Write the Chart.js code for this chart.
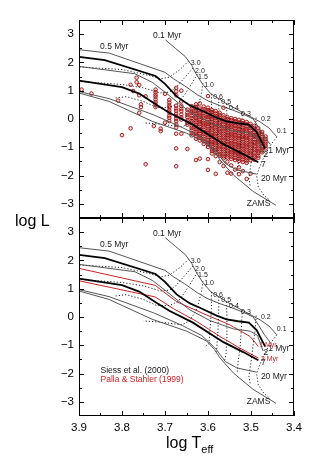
<!DOCTYPE html>
<html><head><meta charset="utf-8">
<script src="https://cdn.jsdelivr.net/npm/chart.js@4.4.1/dist/chart.umd.min.js"></script>
<style>
html,body{margin:0;padding:0;background:#fff;}
body{width:325px;height:475px;position:relative;overflow:hidden;font-family:"Liberation Sans",Arial,Helvetica,sans-serif;}
canvas{position:absolute;left:0;}
#c1{top:0}
#c2{top:200px}
.ax{position:absolute;color:#000;font-size:16px;line-height:1;white-space:nowrap}
#ylab{left:15px;top:213px}
#xlab{left:166px;top:435px}
#xlab sub{font-size:11px;vertical-align:-5px;line-height:0}
</style></head><body>
<canvas id="c1" width="325" height="240"></canvas>
<canvas id="c2" width="325" height="240"></canvas>
<div class="ax" id="ylab">log L</div>
<div class="ax" id="xlab">log T<sub>eff</sub></div>
<script>
// ---------- axes ----------
const xMajor = [3.9, 3.8, 3.7, 3.6, 3.5, 3.4];
const xMinor = [3.85, 3.75, 3.65, 3.55, 3.45];
const yMajor = [-3, -2, -1, 0, 1, 2, 3];
const yMinor = [-2.5, -1.5, -0.5, 0.5, 1.5, 2.5];

// ---------- Siess et al. (2000) isochrones [log Teff, log L] ----------
const siess_0_1Myr = [[3.699,2.8],[3.676,2.5],[3.653,2.21],[3.638,1.9],[3.628,1.6],[3.612,1.22],[3.594,0.9],[3.575,0.72],[3.557,0.54],[3.518,0.22],[3.479,-0.1],[3.458,-0.32],[3.44,-0.63]];
const siess_0_5Myr = [[3.9,2.45],[3.83,2.33],[3.70,1.65],[3.68,1.42],[3.655,1.18],[3.625,0.86],[3.60,0.64],[3.57,0.46],[3.54,0.3],[3.515,0.15],[3.495,0.0],[3.482,-0.3],[3.47,-0.6],[3.455,-0.9]];
const siess_1Myr = [[3.9,2.2],[3.84,2.08],[3.722,1.52],[3.70,1.24],[3.673,0.8],[3.642,0.48],[3.615,0.3],[3.58,0.05],[3.557,-0.08],[3.53,-0.15],[3.505,-0.2],[3.487,-0.46],[3.467,-1.05]];
const siess_2Myr = [[3.9,1.86],[3.77,1.6],[3.73,1.3],[3.70,0.95],[3.67,0.58],[3.642,0.25],[3.595,-0.13],[3.541,-0.42],[3.502,-0.5],[3.485,-0.65],[3.472,-1.2]];
const siess_7Myr = [[3.9,1.36],[3.8,1.13],[3.76,0.9],[3.72,0.5],[3.69,0.22],[3.636,-0.19],[3.564,-0.89],[3.518,-1.24],[3.483,-1.53]];
const siess_20Myr = [[3.9,0.97],[3.83,0.72],[3.727,0.15],[3.66,-0.3],[3.615,-0.65],[3.599,-0.87],[3.58,-1.16],[3.56,-1.57],[3.533,-1.8],[3.487,-1.95]];
const siess_ZAMS = [[3.9,0.92],[3.83,0.62],[3.73,-0.08],[3.65,-0.5],[3.603,-0.85],[3.585,-1.15],[3.572,-1.45],[3.541,-1.98],[3.495,-2.56],[3.442,-3.05]];

// ---------- Siess mass tracks (dotted) ----------
const track_3_0 = [[3.645,2.05],[3.665,1.75],[3.69,1.48],[3.71,1.42],[3.74,1.55],[3.8,1.75],[3.9,1.84]];
const track_2_0 = [[3.635,1.8],[3.655,1.45],[3.675,1.1],[3.69,0.95],[3.71,0.92],[3.75,1.1],[3.8,1.22],[3.9,1.33]];
const track_1_5 = [[3.625,1.58],[3.64,1.2],[3.655,0.85],[3.67,0.55],[3.69,0.4],[3.72,0.41],[3.75,0.62],[3.79,0.79],[3.816,0.74]];
const track_1_0 = [[3.612,1.27],[3.615,0.9],[3.622,0.5],[3.63,0.15],[3.645,-0.15],[3.66,-0.28],[3.7,-0.2],[3.727,-0.16],[3.75,-0.14]];
const track_0_6 = [[3.592,0.88],[3.592,0.3],[3.595,-0.4],[3.598,-0.95],[3.605,-1.02]];
const track_0_5 = [[3.575,0.72],[3.575,0.2],[3.577,-0.5],[3.58,-1.2],[3.585,-1.3]];
const track_0_4 = [[3.557,0.54],[3.556,0.0],[3.556,-0.7],[3.558,-1.3],[3.562,-1.6]];
const track_0_3 = [[3.52,0.25],[3.522,-0.3],[3.525,-1.0],[3.53,-1.6],[3.532,-1.95]];
const track_0_2 = [[3.488,0.05],[3.49,-0.4],[3.495,-1.0],[3.5,-1.6],[3.505,-2.1],[3.502,-2.35]];
const track_0_1 = [[3.44,-0.63],[3.458,-1.0],[3.47,-1.35],[3.48,-1.7],[3.487,-2.0],[3.483,-2.4],[3.47,-2.7],[3.458,-2.85]];

// ---------- Palla & Stahler (1999) isochrones ----------
const ps99_1Myr = [[3.9,1.72],[3.723,1.12],[3.673,0.54],[3.603,0.07],[3.549,-0.28],[3.502,-0.69],[3.483,-1.04]];
const ps99_3Myr = [[3.9,1.28],[3.723,0.71],[3.681,0.3],[3.626,-0.16],[3.572,-0.69],[3.526,-1.1],[3.483,-1.45]];

// ---------- observed stars: columns of [log Teff, [log L ...]] ----------
const starColumns = [
 [3.894,[1.04]],
 [3.871,[0.9]],
 [3.809,[0.65]],
 [3.800,[-0.57]],
 [3.780,[1.21,-0.33]],
 [3.774,[0.99]],
 [3.766,[1.46,1.3]],
 [3.760,[1.2,0.84,0.22]],
 [3.756,[0.52,0.42]],
 [3.745,[0.8,-1.6]],
 [3.726,[-0.25]],
 [3.722,[1.04,0.95,0.86,0.79,0.69,0.6,0.51,0.42]],
 [3.710,[-0.34,-0.43]],
 [3.700,[0.89,-0.13]],
 [3.690,[0.67,0.58,0.48,0.41,0.31,0.23,0.12,0.04,-0.07]],
 [3.674,[1.1,0.98,0.84,0.47,0.37,0.29,0.18,0.1,0.01,-0.08,-0.19,-0.3,-0.52,-1.04,-1.67]],
 [3.662,[1.0,0.62,0.46,0.36,0.28,0.16,0.06,-0.02,-0.52]],
 [3.648,[0.33,0.22,0.14,0.06,-0.05,-0.13,-0.2,-1.06]],
 [3.638,[0.45,0.36,0.27,0.21,0.12,0.03,-0.06,-0.13,-0.24,-0.31,-0.4,-0.49,-0.58]],
 [3.628,[0.52,0.43,0.37,0.28,0.19,0.12,0.04,-0.05,-0.12,-0.21,-0.29,-0.36,-0.45,-0.52,-0.61,-0.7,-1.45]],
 [3.619,[0.55,0.37,0.3,0.21,0.13,0.06,-0.03,-0.11,-0.18,-0.27,-0.35,-0.42,-0.51,-0.59,-0.66,-0.76,-1.4]],
 [3.610,[0.44,0.35,0.27,0.2,0.1,0.03,-0.06,-0.14,-0.22,-0.29,-0.38,-0.46,-0.53,-0.62,-0.7,-0.79,-0.88]],
 [3.600,[0.81,0.4,0.31,0.24,0.15,0.07,-0.01,-0.1,-0.17,-0.26,-0.34,-0.41,-0.5,-0.58,-0.65,-0.74,-0.83,-0.9,-0.99,-1.42,-1.8]],
 [3.591,[0.32,0.25,0.16,0.08,0.0,-0.09,-0.16,-0.24,-0.33,-0.4,-0.49,-0.57,-0.64,-0.73,-0.81,-0.89,-0.97,-1.06,-1.13,-1.22]],
 [3.582,[0.28,0.19,0.11,0.04,-0.05,-0.13,-0.2,-0.29,-0.37,-0.44,-0.53,-0.61,-0.69,-0.77,-0.85,-0.93,-1.01,-1.1,-1.18,-1.31,-1.94]],
 [3.573,[0.22,0.14,0.05,-0.02,-0.11,-0.19,-0.26,-0.35,-0.43,-0.51,-0.58,-0.67,-0.75,-0.83,-0.91,-0.98,-1.07,-1.15,-1.24,-1.3,-1.52]],
 [3.564,[0.4,0.13,0.05,-0.03,-0.1,-0.19,-0.27,-0.34,-0.43,-0.51,-0.59,-0.66,-0.75,-0.83,-0.9,-0.99,-1.07,-1.15,-1.23,-1.32,-1.39,-1.66]],
 [3.555,[0.07,-0.01,-0.09,-0.17,-0.25,-0.33,-0.4,-0.49,-0.57,-0.65,-0.72,-0.81,-0.89,-0.97,-1.04,-1.13,-1.21,-1.29,-1.36,-1.51,-1.9]],
 [3.546,[0.03,-0.04,-0.13,-0.21,-0.28,-0.37,-0.45,-0.53,-0.61,-0.68,-0.77,-0.85,-0.93,-1.0,-1.09,-1.17,-1.25,-1.33,-1.41,-1.64,-1.93]],
 [3.537,[0.0,-0.08,-0.16,-0.24,-0.33,-0.41,-0.48,-0.57,-0.65,-0.72,-0.8,-0.89,-0.97,-1.04,-1.13,-1.21,-1.28,-1.37,-1.45,-1.79]],
 [3.528,[-0.03,-0.12,-0.2,-0.27,-0.36,-0.44,-0.51,-0.6,-0.68,-0.76,-0.84,-0.92,-1.0,-1.08,-1.16,-1.24,-1.32,-1.4,-1.48,-1.71,-1.95]],
 [3.519,[-0.07,-0.15,-0.23,-0.31,-0.39,-0.47,-0.56,-0.63,-0.71,-0.8,-0.87,-0.95,-1.04,-1.11,-1.19,-1.28,-1.35,-1.43,-1.52,-1.84]],
 [3.510,[-0.11,-0.19,-0.27,-0.36,-0.43,-0.51,-0.6,-0.67,-0.75,-0.84,-0.91,-0.99,-1.08,-1.15,-1.23,-1.32,-1.39,-1.47,-1.55,-2.12]],
 [3.501,[-0.17,-0.25,-0.32,-0.41,-0.49,-0.56,-0.65,-0.73,-0.8,-0.89,-0.97,-1.04,-1.13,-1.21,-1.28,-1.37,-1.45,-1.93]],
 [3.492,[-0.24,-0.31,-0.4,-0.47,-0.57,-0.63,-0.72,-0.81,-0.87,-0.96,-1.05,-1.11,-1.2,-1.29,-1.35,-1.44]],
 [3.483,[-0.33,-0.42,-0.49,-0.58,-0.65,-0.74,-0.8,-0.9,-0.97,-1.05,-1.14,-1.2,-1.3,-1.37]],
 [3.474,[-0.46,-0.53,-0.63,-0.7,-0.79,-0.86,-0.95,-1.01,-1.11,-1.18]],
 [3.466,[-0.62,-0.7,-0.8,-0.87,-0.95,-1.04]]
];

// ---------- drawing ----------
const FONT = '"Liberation Sans", Arial, Helvetica, sans-serif';
const toXY = a => a.map(p => ({x: p[0], y: p[1]}));
const starPoints = [];
starColumns.forEach(c => c[1].forEach(v => starPoints.push({x: c[0], y: v})));

function line(pts, color, width, dash) {
  return {data: toXY(pts), showLine: true, borderColor: color, borderWidth: width,
          borderDash: dash || [], pointRadius: 0, pointHoverRadius: 0, fill: false, tension: 0, order: 1};
}
const GRAY = '#555', BLACK = '#000', DOT = '#222', RED = 'rgb(200,35,35)';
function siessSets() {
  return [
    line(siess_0_1Myr, GRAY, 1), line(siess_0_5Myr, GRAY, 1), line(siess_1Myr, BLACK, 1.8),
    line(siess_2Myr, GRAY, 1), line(siess_7Myr, BLACK, 1.8), line(siess_20Myr, GRAY, 1), line(siess_ZAMS, GRAY, 1),
    ...[track_3_0, track_2_0, track_1_5, track_1_0, track_0_6, track_0_5, track_0_4, track_0_3, track_0_2, track_0_1]
      .map(t => line(t, DOT, 1, [1.2, 2]))
  ];
}

const labelsCommon = [
  ['0.1 Myr', 3.728, 2.93, 8.5], ['0.5 Myr', 3.851, 2.56, 8.5],
  ['3.0', 3.640, 1.98, 7], ['2.0', 3.630, 1.71, 7], ['1.5', 3.623, 1.5, 7], ['1.0', 3.609, 1.21, 7],
  ['0.6', 3.588, 0.79, 7], ['0.5', 3.569, 0.6, 7], ['0.4', 3.551, 0.39, 7], ['0.3', 3.523, 0.16, 7],
  ['0.2', 3.477, 0.0, 7], ['0.1', 3.440, -0.44, 7],
  ['1 Myr', 3.460, -1.12, 8.5], ['2', 3.471, -1.26, 8.5], ['7', 3.477, -1.62, 8.5],
  ['20 Myr', 3.477, -2.1, 8.5], ['ZAMS', 3.51, -3.01, 8.5]
];
const labelsBottomExtra = [
  ['1 Myr', 3.481, -1.0, 7, RED], ['3 Myr', 3.477, -1.49, 7, RED],
  ['Siess et al. (2000)', 3.85, -1.88, 8.5, '#111'], ['Palla & Stahler (1999)', 3.85, -2.23, 8.5, RED]
];

const framePlugin = {
  id: 'frame',
  afterDatasetsDraw(chart) {
    const {ctx, chartArea: a, scales: {x, y}} = chart;
    ctx.save();
    ctx.strokeStyle = '#000'; ctx.lineWidth = 1;
    ctx.strokeRect(a.left + 0.5, a.top + 0.5, a.right - a.left - 1, a.bottom - a.top - 1);
    ctx.beginPath();
    const tx = (v, L) => { const p = Math.round(x.getPixelForValue(v)) + 0.5;
      ctx.moveTo(p, a.bottom); ctx.lineTo(p, a.bottom - L); ctx.moveTo(p, a.top); ctx.lineTo(p, a.top + L); };
    const ty = (v, L) => { const p = Math.round(y.getPixelForValue(v)) + 0.5;
      ctx.moveTo(a.left, p); ctx.lineTo(a.left + L, p); ctx.moveTo(a.right, p); ctx.lineTo(a.right - L, p); };
    xMajor.forEach(v => tx(v, 5)); xMinor.forEach(v => tx(v, 3));
    yMajor.forEach(v => ty(v, 5)); yMinor.forEach(v => ty(v, 3));
    ctx.stroke();
    ctx.restore();
  }
};
function textPlugin(items) {
  return {
    id: 'txt',
    afterDatasetsDraw(chart) {
      const {ctx, scales: {x, y}} = chart;
      ctx.save(); ctx.textBaseline = 'middle'; ctx.textAlign = 'left';
      items.forEach(it => {
        ctx.font = it[3] + 'px ' + FONT; ctx.fillStyle = it[4] || '#1a1a1a';
        ctx.fillText(it[0], x.getPixelForValue(it[1]), y.getPixelForValue(it[2]));
      });
      ctx.restore();
    }
  };
}
const fmtY = v => (v < 0 ? '\u2212' + Math.abs(v) : String(v));

function makeChart(id, datasets, padding, showX, labels) {
  return new Chart(document.getElementById(id), {
    type: 'scatter',
    data: {datasets},
    options: {
      responsive: false, animation: false, events: [],
      layout: {padding},
      plugins: {legend: {display: false}, tooltip: {enabled: false}},
      scales: {
        x: {type: 'linear', min: 3.4, max: 3.9, reverse: true, display: showX,
            grid: {display: false, drawTicks: false}, border: {display: false},
            ticks: {color: '#000', padding: 5, font: {family: FONT, size: 11.5}, callback: v => Number(v).toFixed(1), maxRotation: 0, autoSkip: false},
            afterBuildTicks: s => { s.ticks = xMajor.map(v => ({value: v})); },
            afterFit: s => { s.height = showX ? 24 : 0; }},
        y: {type: 'linear', min: -3.5, max: 3.5,
            grid: {display: false, drawTicks: false}, border: {display: false},
            ticks: {color: '#000', padding: 5, font: {family: FONT, size: 11.5}, callback: fmtY, autoSkip: false},
            afterBuildTicks: s => { s.ticks = yMajor.map(v => ({value: v})); },
            afterFit: s => { s.width = 79; }}
      }
    },
    plugins: [framePlugin, textPlugin(labels)]
  });
}

const starSet = {data: starPoints, showLine: false, pointRadius: 1.8, pointBorderWidth: 0.9,
  borderColor: 'rgb(160,12,12)', backgroundColor: 'rgba(160,12,12,0.15)', order: 5};

makeChart('c1', [...siessSets(), starSet], {top: 20, right: 31, bottom: 22, left: 0}, false, labelsCommon);
makeChart('c2', [...siessSets(), line(ps99_1Myr, RED, 1), line(ps99_3Myr, RED, 1)],
  {top: 18, right: 31, bottom: 0, left: 0}, true, labelsCommon.concat(labelsBottomExtra));
</script>
</body></html>
